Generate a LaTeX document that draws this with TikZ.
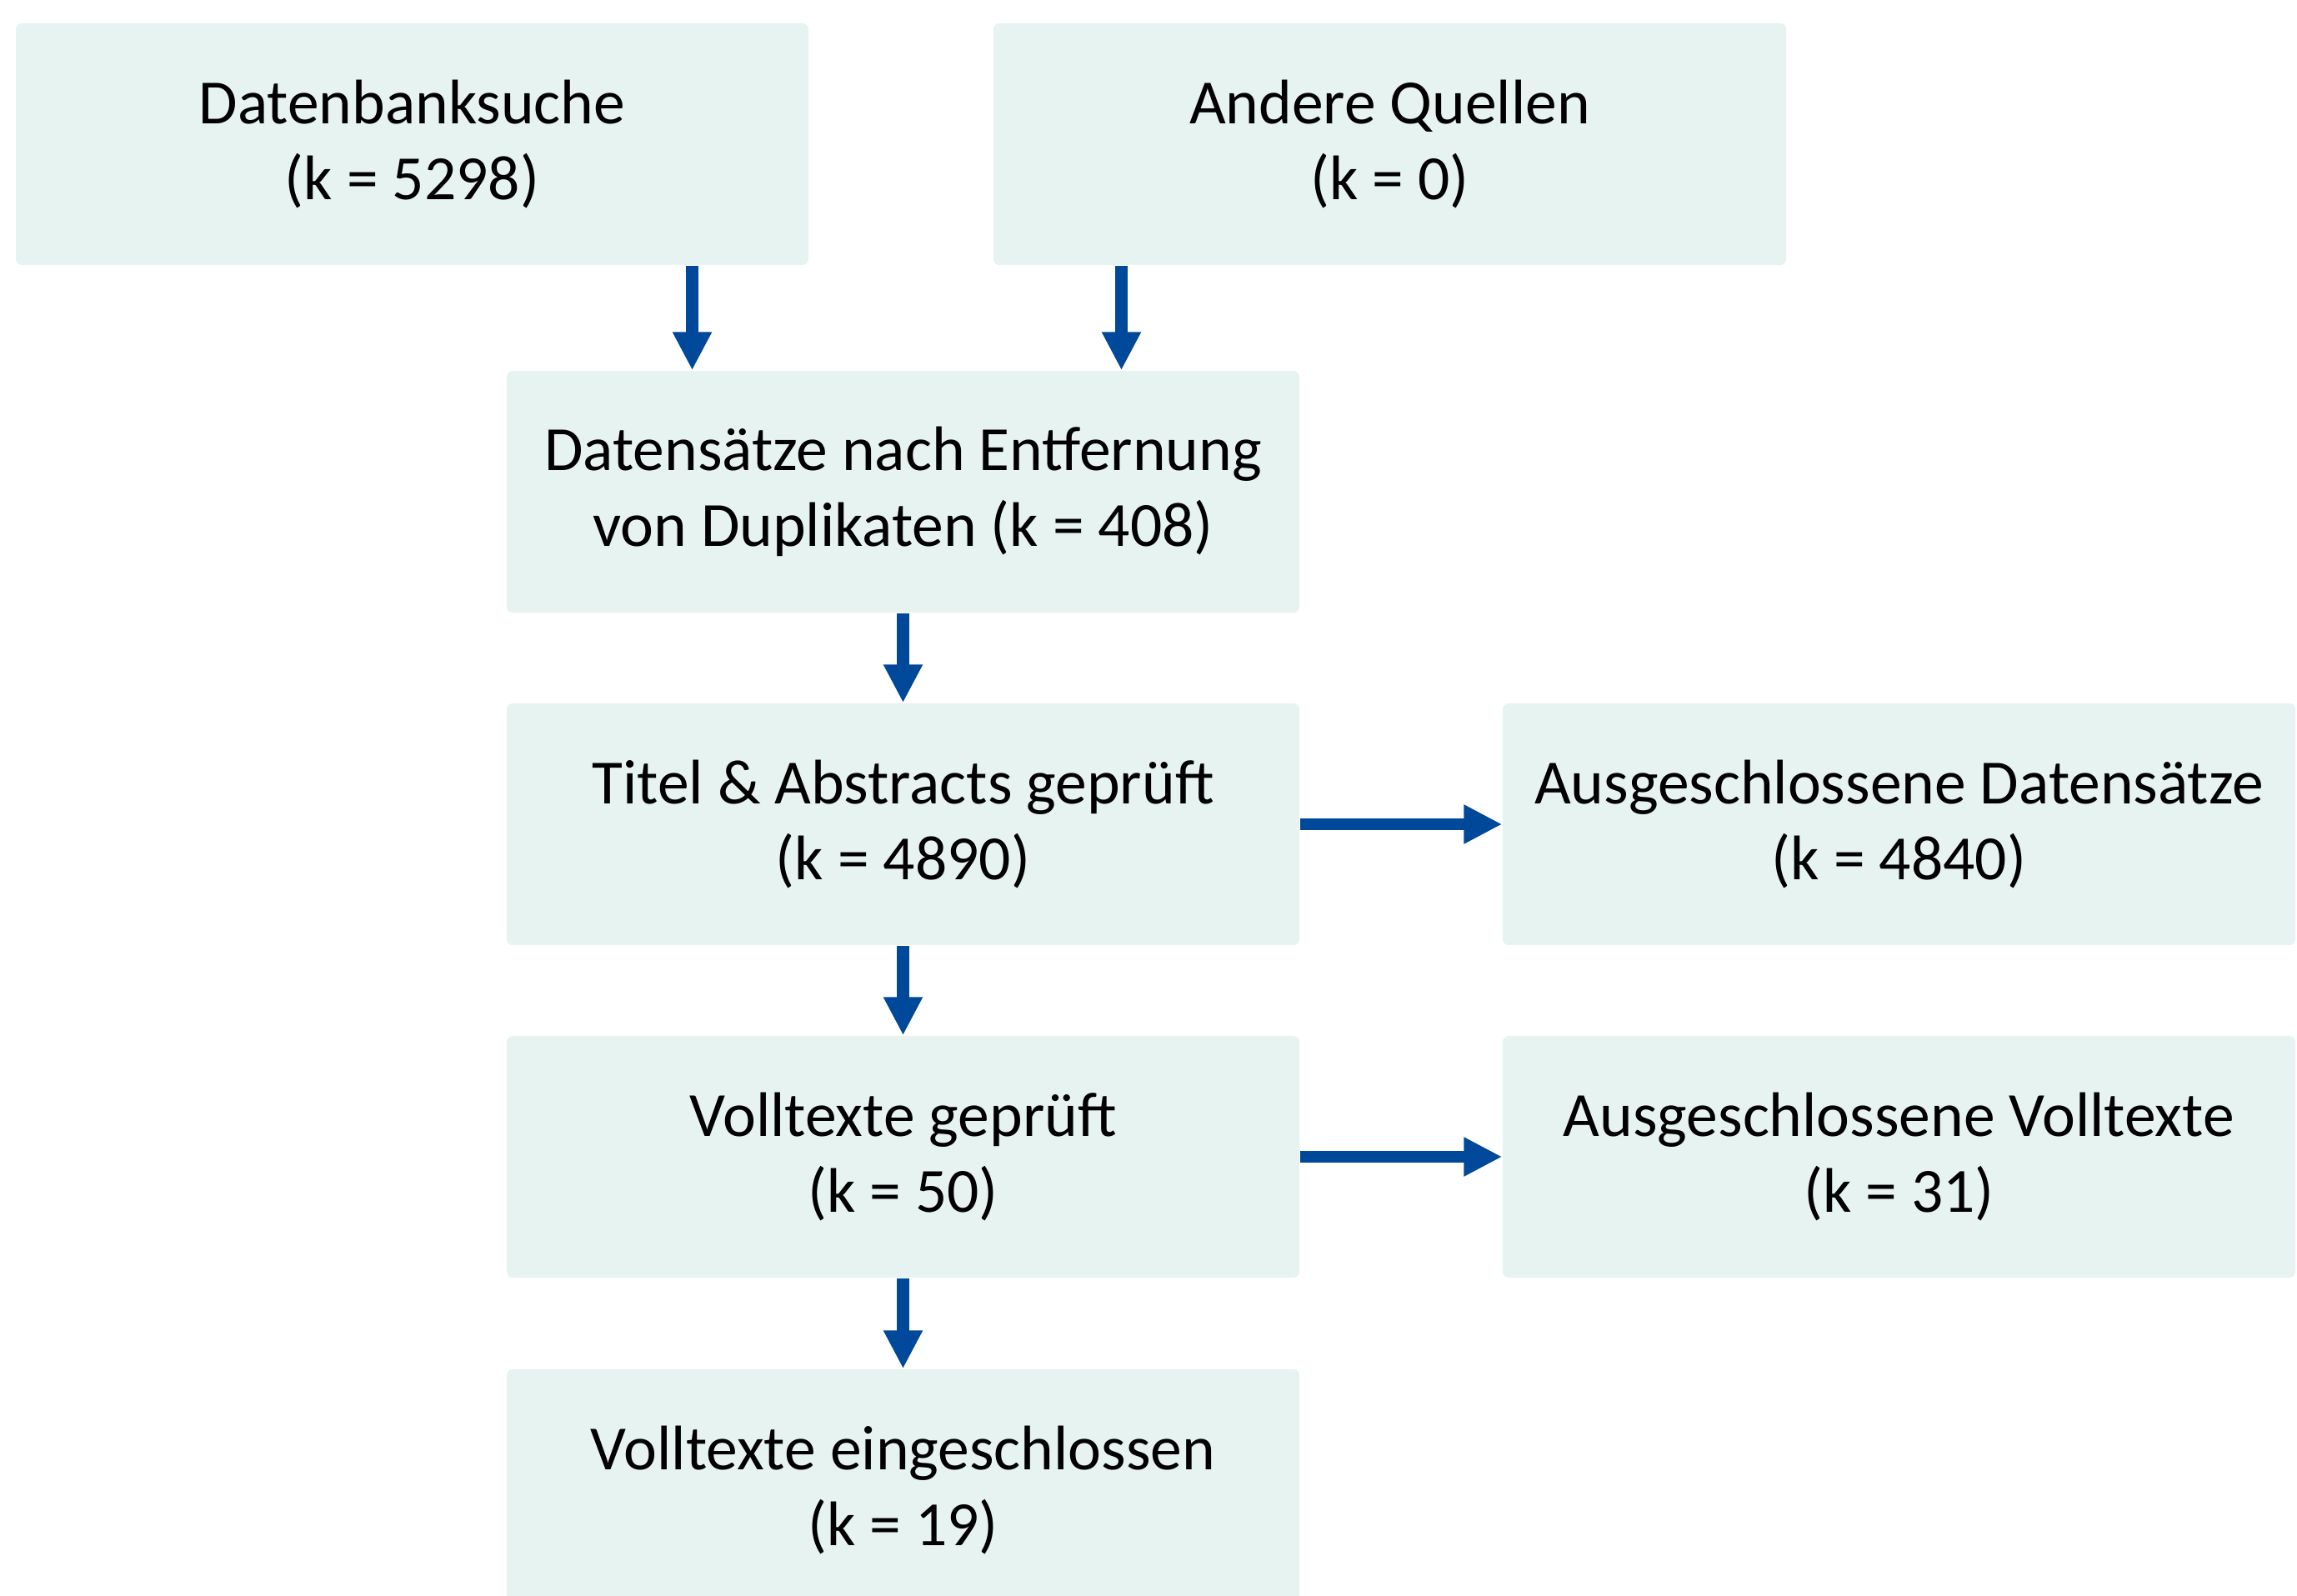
\documentclass[tikz,border=0pt]{standalone}
\usepackage{fontspec}
\setmainfont{Carlito}
\usetikzlibrary{arrows.meta}
\definecolor{boxfill}{HTML}{E7F3F1}
\definecolor{arrowblue}{HTML}{00489A}

\begin{document}
\begin{tikzpicture}
    \tikzset{stage/.style={fill = boxfill, rounded corners = 2pt,
                minimum width = 9.51cm, minimum height = 2.9cm,
                inner sep = 0pt, align = center,
                font = \fontsize{21.5}{26}\selectfont},
             flow/.style={draw = arrowblue, line width = 4pt,
                -{Triangle[length = 0.46cm, width = 0.44cm]}}}
    \useasboundingbox (0,0) rectangle (27.56,-19.15);
    \node[stage] (search) at (4.945,-1.73) {Datenbanksuche\\(k = 5298)};
    \node[stage] (other) at (16.675,-1.73) {Andere Quellen\\(k = 0)};
    \node[stage] (dedup) at (10.835,-5.90) {Datensätze nach Entfernung\\von Duplikaten (k = 408)};
    \node[stage] (screen) at (10.835,-9.89) {Titel \& Abstracts geprüft\\(k = 4890)};
    \node[stage] (exclrec) at (22.785,-9.89) {Ausgeschlossene Datensätze\\(k = 4840)};
    \node[stage] (full) at (10.835,-13.88) {Volltexte geprüft\\(k = 50)};
    \node[stage] (exclfull) at (22.785,-13.88) {Ausgeschlossene Volltexte\\(k = 31)};
    \node[stage] (incl) at (10.835,-17.88) {Volltexte eingeschlossen\\(k = 19)};
    \draw[flow] ([xshift=3.36cm]search.south) -- ([xshift=3.36cm]search.south |- dedup.north);
    \draw[flow] ([xshift=-3.22cm]other.south) -- ([xshift=-3.22cm]other.south |- dedup.north);
    \draw[flow] (dedup) -- (screen);
    \draw[flow] (screen) -- (exclrec);
    \draw[flow] (screen) -- (full);
    \draw[flow] (full) -- (exclfull);
    \draw[flow] (full) -- (incl);
\end{tikzpicture}
\end{document}
